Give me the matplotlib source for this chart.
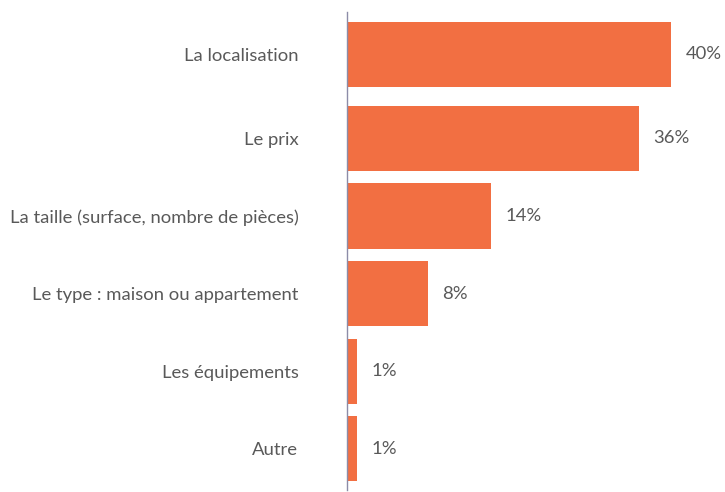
import matplotlib
matplotlib.use("Agg")
import matplotlib.pyplot as plt

plt.rcParams['font.family'] = ['Lato', 'DejaVu Sans']

categories = ["La localisation", "Le prix", "La taille (surface, nombre de pièces)",
              "Le type : maison ou appartement", "Les équipements", "Autre"]
# bar lengths as drawn in the picture (the printed labels differ for the small bars)
bar_lengths = [40, 36, 17.8, 10, 1.2, 1.2]
pct_labels = ["40%", "36%", "14%", "8%", "1%", "1%"]

bar_color = "#F26F42"
text_color = "#595959"

fig = plt.figure(figsize=(7.25, 4.92), dpi=100)
ax = fig.add_axes([347 / 725, 1 - 490 / 492, 378 / 725, 478 / 492])

# first bar sits a little higher than the regular spacing in the original
ypos = [i for i in range(len(categories))]
ypos[0] -= 0.084
bars = ax.barh(ypos, bar_lengths, height=0.839, color=bar_color)

for b, lab in zip(bars, pct_labels):
    ax.annotate(lab, (b.get_width(), b.get_y() + b.get_height() / 2),
                xytext=(10.5, 0), textcoords="offset points",
                va="center", ha="left", fontsize=13.3, color=text_color)

ax.set_xlim(0, 378 / 8.1)
ax.set_ylim(5.535, -0.632)
ax.set_yticks(ypos)
ax.set_yticklabels(categories, fontsize=13.3, color=text_color)
ax.tick_params(axis="y", length=0, pad=35)
ax.set_xticks([])
for side in ["top", "right", "bottom"]:
    ax.spines[side].set_visible(False)
ax.spines["left"].set_color("#8C8CA8")
ax.spines["left"].set_linewidth(1.0)

fig.savefig("out.png", dpi=100)
